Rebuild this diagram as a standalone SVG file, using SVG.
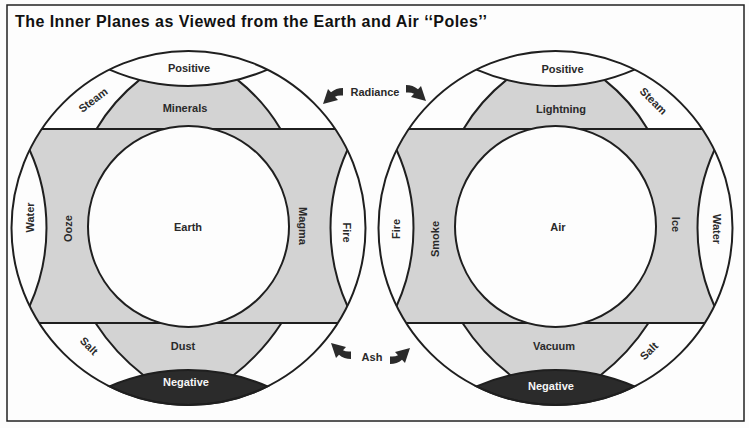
<svg xmlns="http://www.w3.org/2000/svg" xmlns:xlink="http://www.w3.org/1999/xlink" width="749" height="428" viewBox="0 0 749 428">
<style>
.line{fill:none;stroke:#1f1f1f;stroke-width:2}
.grey{fill:#d3d3d3}
.dark{fill:#2b2b2b;stroke:#1f1f1f;stroke-width:2}
.wh{fill:#fdfdfd}
.lbl{font-family:"Liberation Sans",Arial,Helvetica,sans-serif;font-weight:bold;font-size:11px;fill:#2a2a2a;text-anchor:middle}
.neg{fill:#f6f6f6}
.title{font-family:"Liberation Sans",Arial,Helvetica,sans-serif;font-weight:bold;font-size:16px;fill:#111}
.arrow{fill:#2b2b2b}
</style>
<defs>
<g id="disc">
  <circle r="177" class="wh"/>
  <path class="grey" d="M -146.7,-99 L 146.7,-99 A 177 177 0 0 1 158.9,-78 A 188.5 188.5 0 0 0 158.9,78 A 177 177 0 0 1 149.3,95 L -149.3,95 A 177 177 0 0 1 -158.9,78 A 188.5 188.5 0 0 0 -158.9,-78 A 177 177 0 0 1 -146.7,-99 Z"/>
  <path class="grey" d="M -92,-99 Q -75,-127.5 -49,-148.1 A 198.5 198.5 0 0 0 49,-148.1 Q 75,-127.5 92,-99 Z"/>
  <path class="grey" d="M -93,95 Q -73.4,125.2 -45,147.2 A 198.5 198.5 0 0 1 45,147.2 Q 73.4,125.2 93,95 Z"/>
  <path class="dark" d="M -79,158.4 A 198.5 198.5 0 0 1 79,158.4 A 177 177 0 0 1 -79,158.4 Z"/>
  <path class="line" d="M -79,-158.4 A 198.5 198.5 0 0 0 79,-158.4"/>
  <path class="line" d="M -158.9,-78 A 188.5 188.5 0 0 1 -158.9,78 M 158.9,-78 A 188.5 188.5 0 0 0 158.9,78"/>
  <path class="line" d="M -146.7,-99 H 146.7 M -149.3,95 H 149.3"/>
  <path class="line" d="M -92,-99 Q -75,-127.5 -49,-148.1 M 92,-99 Q 75,-127.5 49,-148.1 M -93,95 Q -73.4,125.2 -45,147.2 M 93,95 Q 73.4,125.2 45,147.2"/>
  <circle cy="-1.5" r="100.5" class="line wh" style="fill:#fdfdfd"/>
  <circle r="177" class="line"/>
</g>
<path id="arw" d="M 20,-16 Q 13,-16 8,-11.7 L 5,-15 L 0,0 L 15,-4 L 12,-7.3 Q 15,-9 20,-8.5 Z"/>
</defs>
<rect width="749" height="428" fill="#fdfdfd"/>
<g id="title">
  <rect x="7" y="5" width="737" height="416" fill="none" stroke="#222" stroke-width="1.5"/>
  <text class="title" x="15" y="27" textLength="472" lengthAdjust="spacing">The Inner Planes as Viewed from the Earth and Air ‘‘Poles’’</text>
</g>
<g id="earth-pole">
  <use xlink:href="#disc" transform="translate(188.5,228)"/>
  <text class="lbl" x="189" y="68" dy=".35em">Positive</text>
  <text class="lbl" transform="translate(93,100) rotate(-37)" dy=".35em">Steam</text>
  <text class="lbl" x="185" y="108" dy=".35em">Minerals</text>
  <text class="lbl" x="188" y="227.5" dy=".35em">Earth</text>
  <text class="lbl" transform="translate(30.5,217.5) rotate(-90)" dy=".35em">Water</text>
  <text class="lbl" transform="translate(68.5,228.5) rotate(-90)" dy=".35em">Ooze</text>
  <text class="lbl" transform="translate(303,226) rotate(90)" dy=".35em">Magma</text>
  <text class="lbl" transform="translate(347,232.5) rotate(90)" dy=".35em">Fire</text>
  <text class="lbl" transform="translate(89,346) rotate(45)" dy=".35em">Salt</text>
  <text class="lbl" x="183" y="346" dy=".35em">Dust</text>
  <text class="lbl neg" x="186" y="382.5" dy=".35em">Negative</text>
</g>
<g id="air-pole">
  <use xlink:href="#disc" transform="translate(555.5,228)"/>
  <text class="lbl" x="562.5" y="69" dy=".35em">Positive</text>
  <text class="lbl" transform="translate(653.5,101) rotate(45)" dy=".35em">Steam</text>
  <text class="lbl" x="561" y="109" dy=".35em">Lightning</text>
  <text class="lbl" x="558" y="227.5" dy=".35em">Air</text>
  <text class="lbl" transform="translate(396,229) rotate(-90)" dy=".35em">Fire</text>
  <text class="lbl" transform="translate(435,239) rotate(-90)" dy=".35em">Smoke</text>
  <text class="lbl" transform="translate(676,224.5) rotate(90)" dy=".35em">Ice</text>
  <text class="lbl" transform="translate(717,229) rotate(90)" dy=".35em">Water</text>
  <text class="lbl" x="554" y="346" dy=".35em">Vacuum</text>
  <text class="lbl" transform="translate(649,351) rotate(-45)" dy=".35em">Salt</text>
  <text class="lbl neg" x="551" y="386" dy=".35em">Negative</text>
</g>
<g id="connectors">
  <use xlink:href="#arw" class="arrow" transform="translate(323,104)"/>
  <use xlink:href="#arw" class="arrow" transform="translate(426,101) scale(-1,1)"/>
  <use xlink:href="#arw" class="arrow" transform="translate(331,343) scale(1,-1)"/>
  <use xlink:href="#arw" class="arrow" transform="translate(410,348) scale(-1,-1)"/>
  <text class="lbl" x="375" y="92.5" dy=".35em">Radiance</text>
  <text class="lbl" x="372" y="357" dy=".35em">Ash</text>
</g>
</svg>
